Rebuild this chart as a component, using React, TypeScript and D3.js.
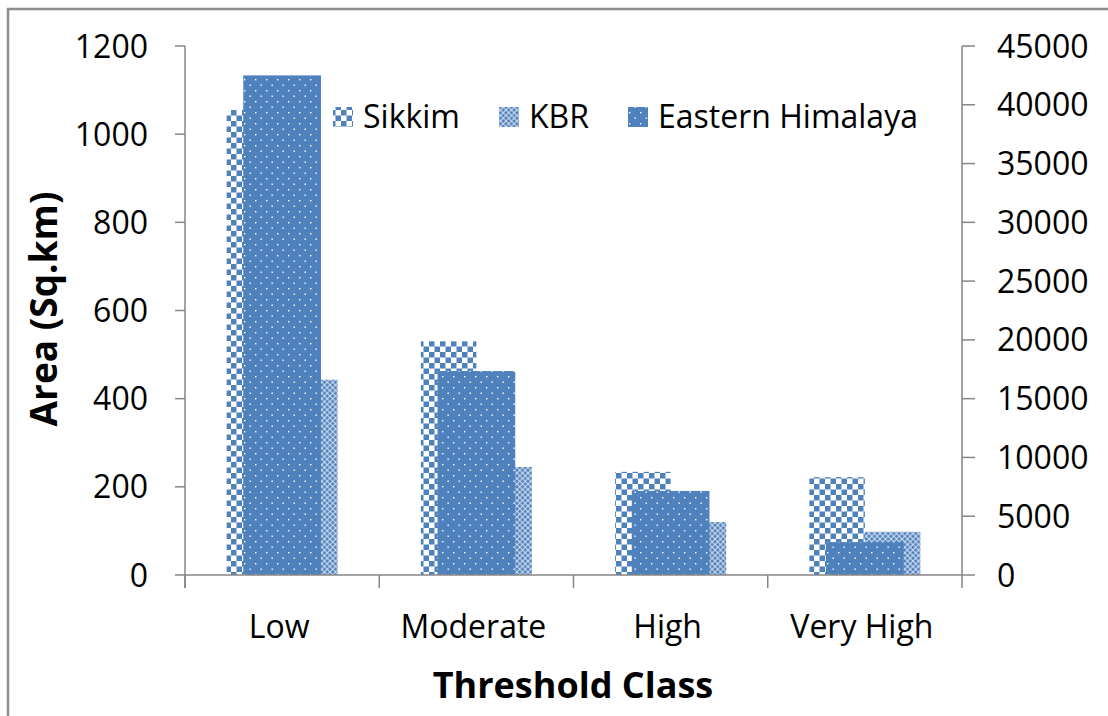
import React from 'react';
import * as d3 from 'd3';

// chart values
const CATEGORIES = ['Low', 'Moderate', 'High', 'Very High'];
const SIKKIM = [1055, 530, 234, 222];
const KBR = [443, 245, 120, 98];
const EASTERN_HIMALAYA = [42500, 17350, 7150, 2800];
const LEFT_TICKS = [0, 200, 400, 600, 800, 1000, 1200];
const RIGHT_TICKS = [0, 5000, 10000, 15000, 20000, 25000, 30000, 35000, 40000, 45000];

const W = 1108;
const H = 716;
const BLUE = '#4F81BD';
const AXIS = '#868686';
const FONT = '"Open Sans", "Noto Sans", sans-serif';
const FS = 32;

const plot = { left: 185, right: 962, top: 46, bottom: 575 };

const x0 = d3.scaleBand<string>().domain(CATEGORIES).range([plot.left, plot.right]).padding(0);
// Excel style: gap width 150%
const xPrimary = d3.scaleBand<string>().domain(['Sikkim', 'KBR']).range([0, x0.bandwidth()]).paddingInner(0).paddingOuter(0.75);
const xSecondary = d3.scaleBand<string>().domain(['EH']).range([0, x0.bandwidth()]).paddingInner(0).paddingOuter(0.75);

const yLeft = d3.scaleLinear().domain([0, 1200]).range([plot.bottom, plot.top]);
const yRight = d3.scaleLinear().domain([0, 45000]).range([plot.bottom, plot.top]);

const Patterns = () => (
  <defs>
    <pattern id="pat-sikkim" width={11} height={11} patternUnits="userSpaceOnUse">
      <rect width={11} height={11} fill="#fff" />
      <rect x={0} y={0} width={5.5} height={5.5} fill={BLUE} />
      <rect x={5.5} y={5.5} width={5.5} height={5.5} fill={BLUE} />
    </pattern>
    <pattern id="pat-kbr" width={5.5} height={5.5} patternUnits="userSpaceOnUse">
      <rect width={5.5} height={5.5} fill={BLUE} />
      <path d="M0,0L5.5,5.5M5.5,0L0,5.5" stroke="#fff" strokeWidth={1.1} strokeOpacity={0.75} />
    </pattern>
    <pattern id="pat-eh" width={11} height={11} patternUnits="userSpaceOnUse">
      <rect width={11} height={11} fill={BLUE} />
      <rect x={2} y={2} width={1.4} height={1.4} fill="#fff" />
      <rect x={7.5} y={7.5} width={1.4} height={1.4} fill="#fff" />
    </pattern>
  </defs>
);

const legendItems = [
  { label: 'Sikkim', fill: 'url(#pat-sikkim)', x: 333 },
  { label: 'KBR', fill: 'url(#pat-kbr)', x: 499 },
  { label: 'Eastern Himalaya', fill: 'url(#pat-eh)', x: 628 },
];

export default function App() {
  return (
    <div style={{ position: 'absolute', left: 0, top: 0 }}>
      <svg width={W} height={H} style={{ display: 'block' }}>
        <Patterns />
        <rect x={0} y={0} width={W} height={H} fill="#fff" />
        {/* outer chart border, cut off at right and bottom */}
        <path d={`M8,${H}V9H${W}`} fill="none" stroke="#8c8c8c" strokeWidth={2.5} />

        {/* primary series */}
        {CATEGORIES.map((c, i) => (
          <g key={c}>
            <rect
              x={x0(c)! + xPrimary('Sikkim')!}
              y={yLeft(SIKKIM[i])}
              width={xPrimary.bandwidth()}
              height={plot.bottom - yLeft(SIKKIM[i])}
              fill="url(#pat-sikkim)"
            />
            <rect
              x={x0(c)! + xPrimary('KBR')!}
              y={yLeft(KBR[i])}
              width={xPrimary.bandwidth()}
              height={plot.bottom - yLeft(KBR[i])}
              fill="url(#pat-kbr)"
            />
          </g>
        ))}
        {/* secondary series drawn on top */}
        {CATEGORIES.map((c, i) => (
          <rect
            key={c}
            x={x0(c)! + xSecondary('EH')!}
            y={yRight(EASTERN_HIMALAYA[i])}
            width={xSecondary.bandwidth()}
            height={plot.bottom - yRight(EASTERN_HIMALAYA[i])}
            fill="url(#pat-eh)"
          />
        ))}

        {/* left axis */}
        <line x1={plot.left} x2={plot.left} y1={plot.top} y2={plot.bottom + 13} stroke={AXIS} strokeWidth={1.5} />
        {LEFT_TICKS.map((t) => (
          <g key={t}>
            <line x1={plot.left - 10} x2={plot.left} y1={yLeft(t)} y2={yLeft(t)} stroke={AXIS} strokeWidth={1.5} />
            <text x={148} y={yLeft(t)} dy="0.36em" textAnchor="end" fontFamily={FONT} fontSize={FS} fill="#000">
              {t}
            </text>
          </g>
        ))}

        {/* right axis */}
        <line x1={plot.right} x2={plot.right} y1={plot.top} y2={plot.bottom + 13} stroke={AXIS} strokeWidth={1.5} />
        {RIGHT_TICKS.map((t) => (
          <g key={t}>
            <line x1={plot.right} x2={plot.right + 13} y1={yRight(t)} y2={yRight(t)} stroke={AXIS} strokeWidth={1.5} />
            <text x={997} y={yRight(t)} dy="0.36em" textAnchor="start" fontFamily={FONT} fontSize={FS} fill="#000">
              {t}
            </text>
          </g>
        ))}

        {/* category axis */}
        <line x1={plot.left} x2={plot.right} y1={plot.bottom} y2={plot.bottom} stroke={AXIS} strokeWidth={1.5} />
        {CATEGORIES.map((c) => (
          <g key={c}>
            <line x1={x0(c)!} x2={x0(c)!} y1={plot.bottom} y2={plot.bottom + 13} stroke={AXIS} strokeWidth={1.5} />
            <text x={x0(c)! + x0.bandwidth() / 2 - 3} y={638} textAnchor="middle" fontFamily={FONT} fontSize={FS} fill="#000">
              {c}
            </text>
          </g>
        ))}

        {/* axis titles */}
        <text x={573} y={698} textAnchor="middle" fontFamily={FONT} fontSize={36} fontWeight="bold" fill="#000">
          Threshold Class
        </text>
        <text
          transform="translate(57,309) rotate(-90)"
          textAnchor="middle"
          fontFamily={FONT}
          fontSize={37}
          fontWeight="bold"
          fill="#000"
        >
          Area (Sq.km)
        </text>

        {/* legend */}
        {legendItems.map((d) => (
          <g key={d.label}>
            <rect x={d.x} y={107} width={20} height={20} fill={d.fill} />
            <text x={d.x + 30} y={128} fontFamily={FONT} fontSize={FS} fill="#000">
              {d.label}
            </text>
          </g>
        ))}
      </svg>
    </div>
  );
}
